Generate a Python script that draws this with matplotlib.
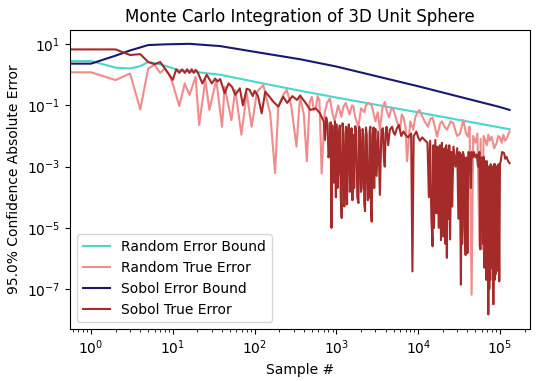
import matplotlib
matplotlib.use("Agg")
import matplotlib.pyplot as plt
import numpy as np

# values (sample #, error)
random_bound = [(0, 2.8), (1, 2.8), (2, 1.7), (3, 1.6), (4, 1.9), (5, 2.6), (7, 2.2),
                (12, 1.4), (38, 1.0), (127, 0.52), (360, 0.30), (1000, 0.18),
                (10000, 0.059), (100000, 0.019), (131072, 0.0166)]

random_true = [(0, 1.2), (1, 1.2), (2, 0.67), (3, 1.1), (4, 0.074), (5, 1.6), (6, 2.1),
               (7, 1.15), (8, 1.6), (9, 1.0), (10, 0.5), (12, 0.095), (14, 0.52), (16, 0.22),
               (19, 0.86), (21, 0.023), (25, 0.68), (28, 0.071), (34, 0.68), (40, 0.020),
               (43, 0.41), (52, 0.033), (58, 0.32), (69, 0.011), (80, 0.25), (92, 0.020),
               (107, 0.28), (128, 0.46), (155, 0.055), (178, 6.2e-4), (195, 0.091), (220, 0.2),
               (247, 0.32), (280, 0.1), (325, 0.0045), (359, 0.19), (400, 0.05), (435, 0.0015),
               (470, 0.12), (500, 0.19), (530, 0.07), (560, 0.08), (590, 0.2), (620, 0.15),
               (660, 6e-4), (720, 0.06), (770, 0.12), (830, 0.17), (890, 0.06), (950, 0.03),
               (1050, 0.1), (1150, 0.043), (1220, 0.09), (1300, 0.12), (1450, 0.05), (1550, 0.1),
               (1620, 0.09), (1700, 0.04), (1860, 0.02), (2000, 0.08), (2200, 0.06), (2300, 0.1),
               (2450, 0.12), (2700, 0.10), (3000, 0.03), (3200, 0.06), (3400, 0.016), (3650, 0.08),
               (3900, 0.13), (4100, 0.07), (4400, 0.04), (4700, 0.08), (5000, 0.071), (5500, 0.03),
               (6000, 0.016), (6300, 0.05), (6600, 0.04), (7000, 0.02), (7300, 0.0015), (8000, 0.03),
               (8700, 0.016), (9200, 0.04), (9800, 0.06), (10400, 0.07), (11000, 0.049),
               (12000, 0.03), (13200, 0.02), (14000, 0.035), (15000, 0.04), (16000, 0.02),
               (17000, 0.0095), (18500, 0.025), (19500, 0.03), (21000, 0.02), (22500, 0.016),
               (25000, 0.03), (27000, 0.026), (28500, 0.015), (30000, 0.01), (32500, 0.012),
               (34000, 0.02), (35700, 0.033), (37000, 0.02), (38500, 0.012), (40700, 0.0095),
               (42500, 0.02), (45000, 6.6e-8), (47000, 0.01), (50000, 0.006), (53000, 0.012),
               (56000, 2.5e-6), (58000, 0.008), (61000, 2e-6), (63000, 0.01), (66000, 0.0074),
               (69000, 0.005), (72000, 0.011), (75000, 0.007), (79000, 0.0095), (85000, 0.004),
               (91000, 0.0059), (95000, 0.01), (100000, 0.009), (105000, 0.006), (110000, 0.011),
               (115000, 0.007), (120000, 0.008), (126000, 0.011), (131072, 0.014)]

sobol_bound = [(0, 2.3), (1, 2.3), (2, 4.2), (3, 6.2), (5, 9.3), (8, 9.8), (16, 10.2),
               (38, 8.6), (100, 5.6), (360, 3.2), (1000, 1.85), (10000, 0.42),
               (100000, 0.088), (131072, 0.071)]

sobol_true = [(0, 6.7), (1, 6.7), (2, 6.7), (3, 4.4), (4, 4.7), (5, 2.6), (6, 2.2), (7, 2.6),
              (8, 1.6), (10, 0.68), (11, 1.5), (12, 1.15), (13, 1.5), (14, 1.15), (15, 1.5),
              (16, 1.15), (17, 1.5), (18, 1.15), (19, 1.45), (20, 1.25), (23, 0.52), (26, 1.0),
              (30, 0.52), (33, 0.75), (35, 0.6), (38, 0.72), (43, 0.25), (48, 0.52), (53, 0.4),
              (58, 0.22), (66, 0.36), (72, 0.10), (80, 0.35), (87, 0.32), (95, 0.2), (100, 0.3),
              (110, 0.2), (122, 0.055), (135, 0.28), (150, 0.2), (170, 0.13), (195, 0.091),
              (224, 0.19), (250, 0.12), (290, 0.2), (330, 0.15), (360, 0.21), (420, 0.12),
              (480, 0.071), (560, 0.08), (630, 0.055),
              (700, 0.03), (725, 0.0074), (750, 0.04), (780, 0.025), (800, 2e-3), (830, 0.003),
              (850, 0.028), (870, 1e-5), (890, 0.022), (910, 0.0021), (930, 3e-4), (960, 0.03),
              (985, 1e-4), (1000, 0.024), (1030, 2e-4), (1060, 8e-4), (1080, 0.014), (1100, 0.022),
              (1130, 1e-4), (1160, 2.1e-5), (1190, 0.026), (1220, 0.012), (1250, 5e-5),
              (1280, 3e-4), (1310, 0.02), (1350, 5.8e-5), (1380, 0.013), (1420, 0.024),
              (1460, 1.5e-4), (1500, 1e-3), (1530, 0.018), (1570, 8e-5), (1610, 0.011),
              (1650, 2e-4), (1700, 0.021), (1750, 0.014), (1800, 1e-4), (1860, 6.5e-5),
              (1900, 0.02), (1950, 0.012), (2000, 1.5e-4), (2040, 2e-4), (2090, 0.017),
              (2140, 0.01), (2190, 6e-5), (2240, 3.5e-5), (2300, 0.019), (2350, 0.011),
              (2420, 8e-5), (2500, 1.0e-4), (2550, 0.014), (2600, 0.02), (2650, 4e-5),
              (2700, 1.6e-5), (2780, 0.012), (2850, 0.019), (2900, 2e-4), (2950, 0.0095),
              (3000, 0.017), (3100, 5e-4), (3250, 0.014), (3400, 1.2e-4), (3550, 0.015),
              (3700, 0.018), (3800, 0.002), (3900, 0.001), (4000, 0.012), (4100, 0.02),
              (4300, 0.005), (4500, 0.016), (4800, 0.02), (5000, 0.013), (5200, 0.011),
              (5500, 0.018), (5800, 0.023), (6200, 0.01), (6600, 0.014), (7000, 0.011),
              (7500, 0.009), (8200, 0.012), (8500, 3.8e-7), (8800, 0.01), (9200, 0.012),
              (9500, 0.014), (10000, 0.009), (10500, 0.007), (11200, 0.009), (12000, 0.0074),
              (13000, 0.006), (13500, 1e-4), (14000, 0.007), (14500, 2e-5), (15000, 2.5e-6),
              (15300, 0.005), (15600, 1e-5), (16200, 0.0074), (16700, 3e-5), (17200, 0.0045),
              (17800, 1e-5), (18400, 0.005), (19000, 4e-6), (19500, 0.006), (20000, 2e-5),
              (20400, 5.2e-6), (21000, 0.004), (21500, 3e-6), (22000, 0.005), (22400, 1.05e-6),
              (23000, 0.0035), (23500, 2e-5), (24000, 0.005), (24500, 4.2e-6), (25500, 0.003),
              (26000, 5e-5), (27000, 0.0045), (28500, 1e-3), (30000, 0.004), (31000, 2e-5),
              (32000, 0.003), (32800, 1e-5), (33300, 1.4e-7), (34000, 0.0025), (34500, 3e-6),
              (35300, 0.003), (36300, 0.0021), (37000, 1e-5), (38000, 1.3e-6), (39000, 0.002),
              (40000, 1.5e-6), (41000, 0.003), (42700, 0.0028), (44000, 2e-4), (45000, 0.003),
              (46500, 0.002), (48000, 0.003), (50000, 0.002), (52000, 0.0025), (54000, 1e-3),
              (56000, 0.003), (57500, 2e-6), (59000, 0.002), (60000, 7.8e-6), (61000, 0.0018),
              (62000, 3e-6), (63000, 0.0021), (64500, 5e-7), (66000, 5e-6), (67000, 0.0015),
              (68000, 2e-7), (69000, 0.0015), (70000, 1e-6), (71000, 0.001), (72000, 1.5e-8),
              (73000, 0.001), (74000, 1e-7), (75000, 0.001), (76000, 2e-7), (77000, 0.0012),
              (78000, 0.001), (79000, 5e-7), (80000, 1e-6), (81500, 0.001), (83000, 3.2e-8),
              (84500, 0.0012), (86000, 2e-7), (87000, 0.0012), (88000, 3e-7), (89500, 0.001),
              (91000, 0.001), (92500, 4e-7), (94000, 5e-7), (96000, 0.0012), (98000, 1.8e-7),
              (100000, 0.0012), (102000, 0.0015), (106000, 0.003), (112000, 0.0028),
              (116000, 0.0018), (120000, 0.0021), (126000, 0.0015), (131072, 0.0013)]

series = [
    ("Random Error Bound", random_bound, "#48d8cc"),
    ("Random True Error", random_true, "#f08c8c"),
    ("Sobol Error Bound", sobol_bound, "midnightblue"),
    ("Sobol True Error", sobol_true, "brown"),
]

fig = plt.figure(figsize=(5.4, 3.81), dpi=100)
ax = fig.add_axes([70 / 540, 52 / 381, 460 / 540, 299 / 381])

for label, pts, color in series:
    x, y = np.array(pts).T
    ax.plot(x, y, color=color, lw=1.5, label=label)

ax.set_xscale("log")
ax.set_yscale("log")
ax.set_xlim(10 ** -0.257, 10 ** 5.367)
ax.set_ylim(10 ** -8.3, 10 ** 1.46)

ax.set_title("Monte Carlo Integration of 3D Unit Sphere", fontsize=12)
ax.set_xlabel("Sample #", fontsize=10)
ax.set_ylabel("95.0% Confidence Absolute Error", fontsize=10)
ax.tick_params(labelsize=10)
ax.legend(loc="lower left", fontsize=10)

fig.savefig("out.png", dpi=100)
